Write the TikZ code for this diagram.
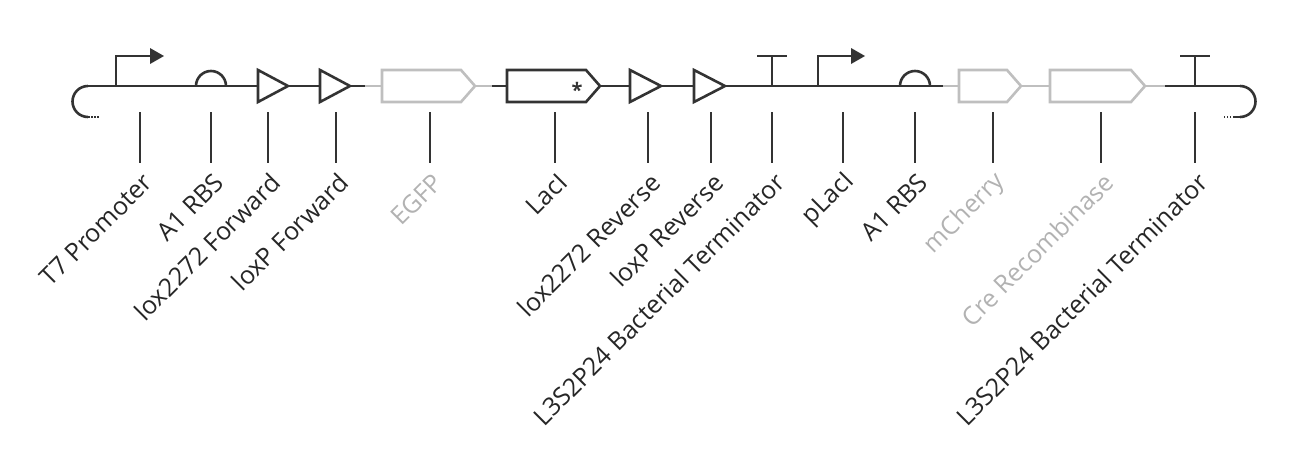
\documentclass[tikz,border=0pt]{standalone}
\usepackage{fontspec}
\setmainfont{Open Sans}
\begin{document}
\begin{tikzpicture}[x=1pt,y=-1pt,
 dk/.style={draw=black!80,line width=2.6pt},
 lt/.style={draw=black!25,line width=2.6pt},
 tick/.style={draw=black!80,line width=1.8pt},
 lab/.style={rotate=45,anchor=east,inner sep=0pt,font=\fontsize{25}{25}\selectfont,text=black!85},
 glab/.style={lab,text=black!30}]
\useasboundingbox (0,0) rectangle (1294,474);
% left end
\draw[dk] (88,86) arc[start angle=-90,end angle=-270,radius=15.5];
\draw[dk,dash pattern=on 1.5pt off 1.5pt] (88,117) -- (100,117);
\draw[dk] (88,86) -- (240,86);
% T7 promoter
\draw[dk] (116,86) -- (116,56) -- (152,56);
\fill[black!80] (150,48) -- (164,56) -- (150,64) -- cycle;
% RBS
\draw[dk] (196,86) arc[start angle=180,end angle=360,radius=15];
% lox triangles
\draw[dk] (240,86) -- (258,86); \draw[dk] (258,70) -- (288,86) -- (258,102) -- cycle;
\draw[dk] (288,86) -- (320,86); \draw[dk] (320,70) -- (350,86) -- (320,102) -- cycle;
\draw[dk] (350,86) -- (365,86);
% EGFP
\draw[lt] (365,86) -- (382,86);
\draw[lt] (382,70) -- (461,70) -- (475,86) -- (461,102) -- (382,102) -- cycle;
\draw[lt] (475,86) -- (492,86);
% LacI
\draw[dk] (492,86) -- (507,86);
\draw[dk] (507,70) -- (586,70) -- (600,86) -- (586,102) -- (507,102) -- cycle;
\node[font=\fontsize{20}{20}\selectfont\bfseries,text=black!80] at (577,90) {*};
\draw[dk] (600,86) -- (630,86); \draw[dk] (630,70) -- (661,86) -- (630,102) -- cycle;
\draw[dk] (661,86) -- (694,86); \draw[dk] (694,70) -- (725,86) -- (694,102) -- cycle;
\draw[dk] (725,86) -- (802,86);
% terminator 1
\draw[dk] (772,86) -- (772,56); \draw[dk] (757,56) -- (787,56);
% pLacI
\draw[dk] (802,86) -- (943,86);
\draw[dk] (818,86) -- (818,56) -- (853,56);
\fill[black!80] (851,48) -- (865,56) -- (851,64) -- cycle;
\draw[dk] (900,86) arc[start angle=180,end angle=360,radius=15];
% mCherry
\draw[lt] (943,86) -- (959,86);
\draw[lt] (959,70) -- (1007,70) -- (1021,86) -- (1007,102) -- (959,102) -- cycle;
\draw[lt] (1021,86) -- (1050,86);
% Cre
\draw[lt] (1050,70) -- (1131,70) -- (1145,86) -- (1131,102) -- (1050,102) -- cycle;
\draw[lt] (1145,86) -- (1165,86);
% terminator 2
\draw[dk] (1165,86) -- (1240,86);
\draw[dk] (1195,86) -- (1195,56); \draw[dk] (1180,56) -- (1210,56);
\draw[dk] (1240,86) arc[start angle=-90,end angle=90,radius=15.5];
\draw[dk] (1240,117) -- (1234,117);
\draw[dk,dash pattern=on 1.5pt off 1.5pt] (1234,117) -- (1222,117);
% ticks and labels
\foreach \x/\t/\s in {140/T7 Promoter/lab,211/A1 RBS/lab,268/lox2272 Forward/lab,336/loxP Forward/lab,430/EGFP/glab,555/LacI/lab,648/lox2272 Reverse/lab,711/loxP Reverse/lab,772/L3S2P24 Bacterial Terminator/lab,843/pLacI/lab,915/A1 RBS/lab,993/mCherry/glab,1101/Cre Recombinase/glab,1195/L3S2P24 Bacterial Terminator/lab}{
 \coordinate (t\x) at (\x,112); \coordinate (b\x) at (\x,163);
 \draw[tick] (t\x) -- (b\x);
 \node[\s] (l\x) at (\x+8,178) {\t};
}
\end{tikzpicture}
\end{document}
